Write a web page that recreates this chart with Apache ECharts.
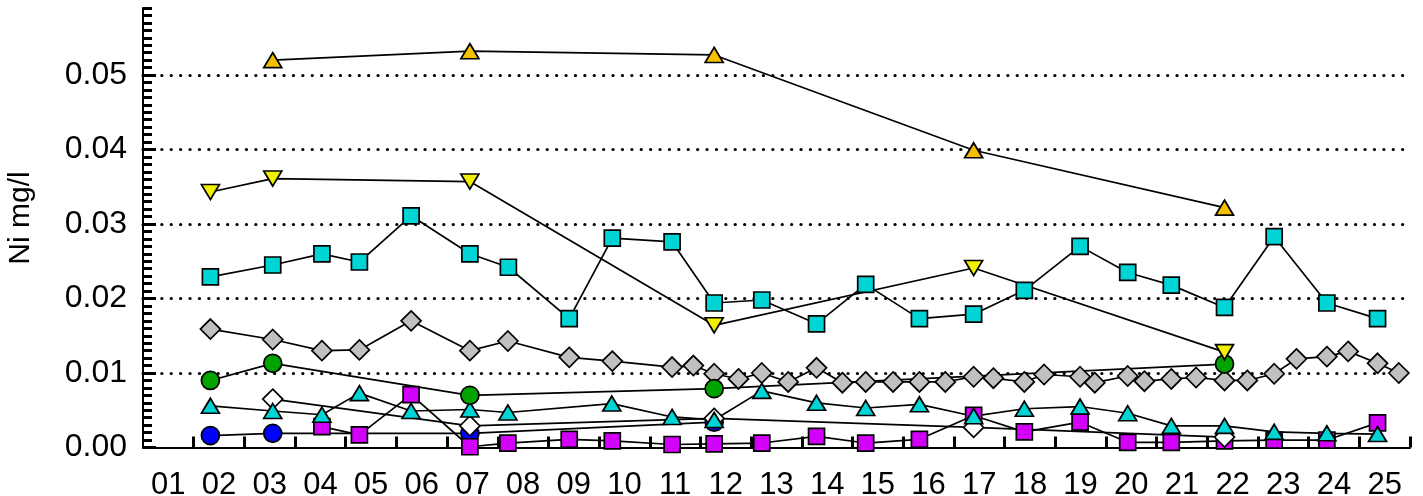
<!DOCTYPE html>
<html>
<head>
<meta charset="utf-8">
<script src="https://cdn.jsdelivr.net/npm/echarts@6/dist/echarts.min.js"></script>
<style>
  html, body { margin: 0; padding: 0; background: #fff; }
  #chart { width: 1423px; height: 496px; }
</style>
</head>
<body>
<div id="chart"></div>
<script>
// Year labels along the bottom axis (one slot per year, label centred in the slot)
const yearLabels = ['01','02','03','04','05','06','07','08','09','10','11','12','13',
                    '14','15','16','17','18','19','20','21','22','23','24','25'];

// Sampling times (position within the year axis) and nickel concentrations, mg/l
const orangeTriX = [2.56, 6.45, 11.27, 16.39, 21.34];
const orangeTriY = [0.0520, 0.0532, 0.0527, 0.0399, 0.0322];

const yellowDownX = [1.33, 2.56, 6.45, 11.27, 16.39, 21.34];
const yellowDownY = [0.0343, 0.0361, 0.0357, 0.0164, 0.0241, 0.0128];

const cyanSquareX = [1.33, 2.56, 3.53, 4.27, 5.29, 6.45, 7.21, 8.41, 9.26, 10.44, 11.27, 12.21,
                     13.29, 14.26, 15.32, 16.39, 17.39, 18.49, 19.43, 20.29, 21.34, 22.32, 23.36, 24.36];
const cyanSquareY = [0.0229, 0.0245, 0.0260, 0.0249, 0.0311, 0.0260, 0.0242, 0.0173, 0.0281, 0.0276, 0.0194, 0.0198,
                     0.0166, 0.0219, 0.0173, 0.0179, 0.0211, 0.0270, 0.0235, 0.0218, 0.0188, 0.0283, 0.0194, 0.0173];

const grayDiamondX = [1.33, 2.56, 3.53, 4.27, 5.29, 6.45, 7.20, 8.41, 9.26, 10.44, 10.86, 11.27, 11.75,
                      12.21, 12.73, 13.29, 13.80, 14.26, 14.80, 15.32, 15.83, 16.39, 16.78, 17.39, 17.78,
                      18.49, 18.78, 19.43, 19.76, 20.29, 20.78, 21.34, 21.79, 22.32, 22.76, 23.36, 23.78,
                      24.36, 24.78];
const grayDiamondY = [0.0159, 0.0145, 0.0130, 0.0131, 0.0170, 0.0130, 0.0143, 0.0121, 0.0116, 0.0108, 0.0110, 0.0099, 0.0092,
                      0.0100, 0.0088, 0.0107, 0.0087, 0.0088, 0.0088, 0.0088, 0.0088, 0.0095, 0.0093, 0.0088, 0.0098,
                      0.0095, 0.0087, 0.0096, 0.0089, 0.0092, 0.0094, 0.0090, 0.0090, 0.0099, 0.0119, 0.0122, 0.0129,
                      0.0113, 0.0100];

const greenCircleX = [1.33, 2.56, 6.45, 11.27, 21.34];
const greenCircleY = [0.0090, 0.0113, 0.0070, 0.0079, 0.0112];

const whiteDiamondX = [2.56, 6.45, 11.27, 16.39, 21.34];
const whiteDiamondY = [0.0065, 0.0029, 0.0039, 0.0027, 0.0014];

const cyanTriX = [1.33, 2.56, 3.53, 4.27, 5.29, 6.45, 7.20, 9.25, 10.44, 11.27, 12.21, 13.29,
                  14.26, 15.32, 16.39, 17.39, 18.49, 19.43, 20.29, 21.34, 22.32, 23.36, 24.36];
const cyanTriY = [0.0056, 0.0049, 0.0044, 0.0073, 0.0049, 0.0051, 0.0047, 0.0059, 0.0041, 0.0037, 0.0076, 0.0060,
                  0.0053, 0.0058, 0.0042, 0.0052, 0.0055, 0.0046, 0.0029, 0.0029, 0.0021, 0.0019, 0.0018];

const blueCircleX = [1.33, 2.56, 6.45, 11.27];
const blueCircleY = [0.0016, 0.0019, 0.0019, 0.0034];

const magentaSquareX = [3.53, 4.27, 5.29, 6.45, 7.20, 8.41, 9.26, 10.44, 11.27, 12.21, 13.29, 14.26,
                        15.32, 16.39, 17.39, 18.49, 19.43, 20.29, 21.34, 22.32, 23.36, 24.36];
const magentaSquareY = [0.0028, 0.0017, 0.0071, 0.0001, 0.0006, 0.0011, 0.0009, 0.0004, 0.0005, 0.0006, 0.0015, 0.0006,
                        0.0011, 0.0043, 0.0021, 0.0034, 0.0007, 0.0007, 0.0009, 0.0010, 0.0010, 0.0033];

const pairs = (xs, ys) => xs.map((x, i) => [x, ys[i]]);

const FONT = '"Liberation Sans", Arial, Helvetica, sans-serif';
const majorTicks = [0, 0.01, 0.02, 0.03, 0.04, 0.05];
const minorTicks = [];
for (let i = 0; i <= 59; i++) minorTicks.push(+(i * 0.001).toFixed(3));

// plot frame (pixels)
const PLOT = { left: 143, right: 13, top: 8, bottom: 48.5 };
const X_TICK_LEN = 11;

function lineSeries(name, data, symbol, size, color, extra) {
  return Object.assign({
    name: name,
    type: 'line',
    xAxisIndex: 0,
    yAxisIndex: 0,
    data: data,
    symbol: symbol,
    symbolSize: size,
    showSymbol: true,
    showAllSymbol: true,
    clip: false,
    z: 3,
    lineStyle: { color: '#000', width: 1.7 },
    itemStyle: { color: color, borderColor: '#000', borderWidth: 1.7 },
    emphasis: { disabled: true }
  }, extra || {});
}

const chart = echarts.init(document.getElementById('chart'), null, { renderer: 'canvas' });

chart.setOption({
  animation: false,
  backgroundColor: '#fff',
  grid: [
    {
      left: PLOT.left, right: PLOT.right, top: PLOT.top, bottom: PLOT.bottom,
      containLabel: false, outerBoundsMode: 'none'
    },
    // thin strip along the bottom edge that carries the year-boundary tick marks
    {
      left: PLOT.left, right: PLOT.right,
      top: 496 - PLOT.bottom - X_TICK_LEN, bottom: PLOT.bottom,
      containLabel: false, outerBoundsMode: 'none'
    }
  ],
  xAxis: [
    {
      // time axis: one unit per year
      type: 'value',
      gridIndex: 0,
      min: 0,
      max: 25,
      interval: 1,
      position: 'bottom',
      axisLine: { show: true, onZero: false, lineStyle: { color: '#000', width: 2 } },
      axisTick: { show: false },
      axisLabel: { show: false },
      splitLine: { show: false }
    },
    {
      // year names centred between the boundaries
      type: 'category',
      gridIndex: 0,
      data: yearLabels,
      boundaryGap: true,
      position: 'bottom',
      offset: 0,
      axisLine: { show: false, onZero: false },
      axisTick: { show: false },
      axisLabel: {
        color: '#000',
        fontFamily: FONT,
        fontSize: 31,
        margin: 22,
        interval: 0
      },
      splitLine: { show: false }
    },
    {
      // year boundaries as short upward ticks
      type: 'value',
      gridIndex: 1,
      min: 0,
      max: 25,
      interval: 1,
      axisLine: { show: false },
      axisTick: { show: false },
      axisLabel: { show: false },
      splitLine: { show: true, showMinLine: false, showMaxLine: true, lineStyle: { color: '#000', width: 3 } }
    }
  ],
  yAxis: [
    {
      type: 'value',
      gridIndex: 0,
      min: 0,
      max: 0.059,
      interval: 0.01,
      axisLine: { show: true, onZero: false, lineStyle: { color: '#000', width: 2 } },
      axisTick: {
        show: true, inside: true, length: 13,
        customValues: majorTicks,
        lineStyle: { color: '#000', width: 3 }
      },
      axisLabel: {
        customValues: majorTicks,
        formatter: v => v.toFixed(2),
        color: '#000',
        fontFamily: FONT,
        fontSize: 32,
        margin: 16
      },
      splitLine: {
        show: true,
        showMinLine: false,
        showMaxLine: true,
        lineStyle: { color: '#000', width: 3.2, type: [0.1, 9.3], cap: 'round' }
      }
    },
    {
      type: 'value',
      gridIndex: 0,
      min: 0,
      max: 0.059,
      position: 'left',
      offset: 0,
      axisLine: { show: false },
      axisLabel: { show: false },
      splitLine: { show: false },
      axisTick: {
        show: true, inside: true, length: 9,
        customValues: minorTicks,
        lineStyle: { color: '#000', width: 3 }
      }
    },
    {
      type: 'value',
      gridIndex: 1,
      min: 0,
      max: 1,
      show: false
    }
  ],
  graphic: [
    {
      type: 'text',
      x: 21,
      y: 218,
      rotation: Math.PI / 2,
      style: {
        text: 'Ni mg/l',
        fill: '#000',
        font: '30px ' + FONT,
        textAlign: 'center',
        textVerticalAlign: 'middle'
      }
    }
  ],
  series: [
    lineSeries('blue circle', pairs(blueCircleX, blueCircleY), 'circle', 18, '#0000ff'),
    lineSeries('magenta square', pairs(magentaSquareX, magentaSquareY), 'rect', 16, '#d200f8'),
    lineSeries('white diamond', pairs(whiteDiamondX, whiteDiamondY), 'diamond', 20, '#ffffff'),
    lineSeries('cyan triangle', pairs(cyanTriX, cyanTriY), 'triangle', [18, 15], '#00d4d4'),
    lineSeries('gray diamond', pairs(grayDiamondX, grayDiamondY), 'diamond', 20, '#c0c0c0'),
    lineSeries('green circle', pairs(greenCircleX, greenCircleY), 'circle', 18, '#00a300'),
    lineSeries('cyan square', pairs(cyanSquareX, cyanSquareY), 'rect', 16, '#00d4d4'),
    lineSeries('yellow triangle', pairs(yellowDownX, yellowDownY), 'triangle', [18, 15], '#f0f000', { symbolRotate: 180 }),
    lineSeries('orange triangle', pairs(orangeTriX, orangeTriY), 'triangle', [18, 15], '#f5c000')
  ]
});
</script>
</body>
</html>
